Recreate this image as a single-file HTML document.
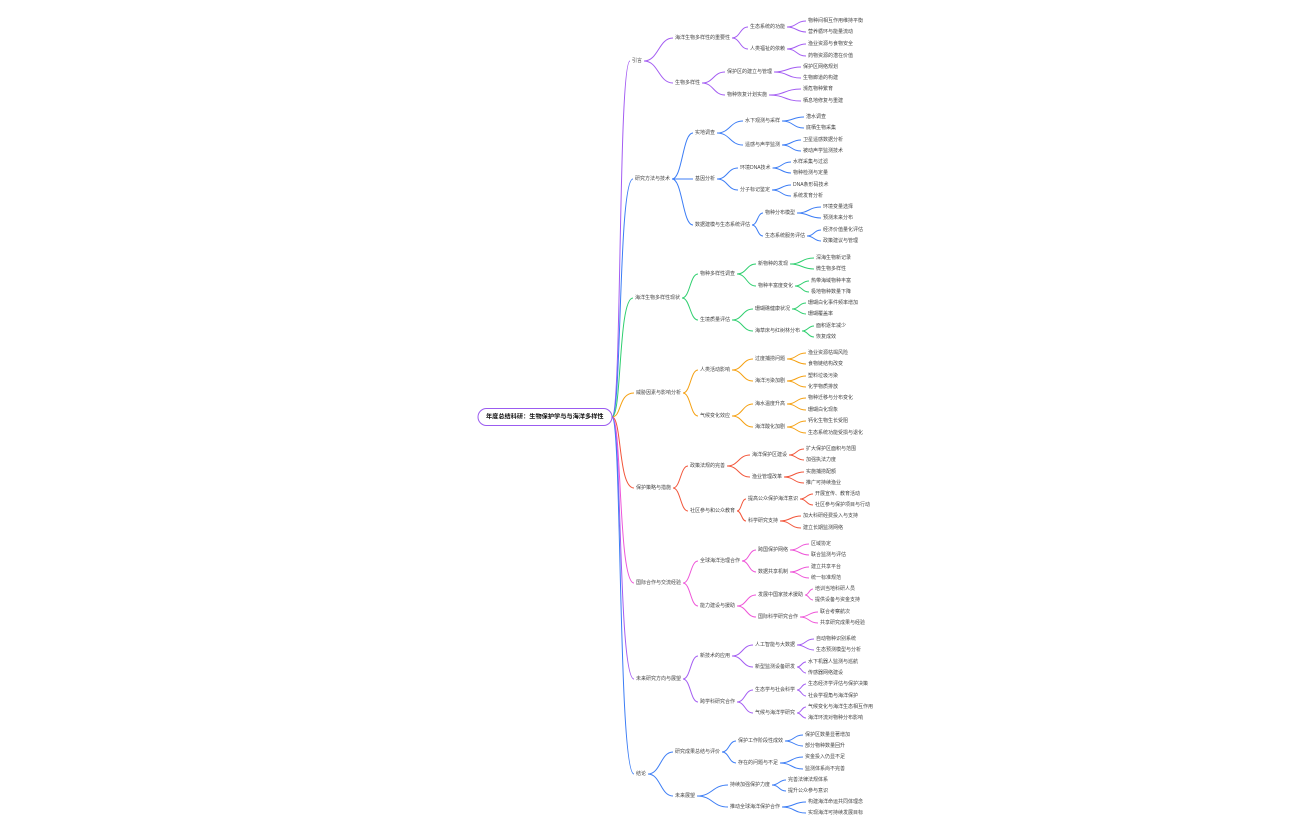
<!DOCTYPE html>
<html><head><meta charset="utf-8"><style>
html,body{margin:0;padding:0;background:#fff;width:1296px;height:840px;overflow:hidden}
svg{display:block}
text{font-family:"Liberation Sans","Noto Sans CJK SC",sans-serif;font-size:5px;fill:#444;dominant-baseline:central}
.r{font-size:6.2px;font-weight:bold;fill:#111}
path{fill:none;stroke-width:1}
</style></head><body>
<svg id="s" width="1296" height="840" viewBox="0 0 1296 840">
<g id="lines"></g>
<rect x="478" y="408.5" width="134" height="17" rx="8.5" fill="#fff" stroke="#9b5cf0" stroke-width="1"/>
<text id="R" class="r" x="486" y="417">年度总结科研：生物保护学与与海洋多样性</text>

<g class="b" c="#a35cf2">
<text id="a" p="R" x="632" y="61">引言</text>
<text id="a1" p="a" x="675" y="38">海洋生物多样性的重要性</text>
<text id="a11" p="a1" x="750" y="27">生态系统的功能</text>
<text p="a11" x="808" y="21">物种间相互作用维持平衡</text>
<text p="a11" x="808" y="32">营养循环与能量流动</text>
<text id="a12" p="a1" x="750" y="49">人类福祉的依赖</text>
<text p="a12" x="808" y="44">渔业资源与食物安全</text>
<text p="a12" x="808" y="56">药物资源的潜在价值</text>
<text id="a2" p="a" x="675" y="83">生物多样性</text>
<text id="a21" p="a2" x="727" y="72">保护区的建立与管理</text>
<text p="a21" x="803" y="67">保护区网络规划</text>
<text p="a21" x="803" y="78">生物廊道的构建</text>
<text id="a22" p="a2" x="727" y="95">物种恢复计划实施</text>
<text p="a22" x="803" y="89">濒危物种繁育</text>
<text p="a22" x="803" y="101">栖息地修复与重建</text>
</g>
<g class="b" c="#3c7df5">
<text id="b" p="R" x="635" y="179">研究方法与技术</text>
<text id="b1" p="b" x="695" y="133">实地调查</text>
<text id="b11" p="b1" x="745" y="121">水下观测与采样</text>
<text p="b11" x="806" y="117">潜水调查</text>
<text p="b11" x="806" y="128">底栖生物采集</text>
<text id="b12" p="b1" x="745" y="145">遥感与声学监测</text>
<text p="b12" x="803" y="140">卫星遥感数据分析</text>
<text p="b12" x="803" y="151">被动声学监测技术</text>
<text id="b2" p="b" x="695" y="179">基因分析</text>
<text id="b21" p="b2" x="740" y="168">环境DNA技术</text>
<text p="b21" x="793" y="162">水样采集与过滤</text>
<text p="b21" x="793" y="173">物种检测与定量</text>
<text id="b22" p="b2" x="740" y="190">分子标记鉴定</text>
<text p="b22" x="793" y="185">DNA条形码技术</text>
<text p="b22" x="793" y="196">系统发育分析</text>
<text id="b3" p="b" x="695" y="225">数据建模与生态系统评估</text>
<text id="b31" p="b3" x="765" y="213">物种分布模型</text>
<text p="b31" x="823" y="207">环境变量选择</text>
<text p="b31" x="823" y="218">预测未来分布</text>
<text id="b32" p="b3" x="765" y="236">生态系统服务评估</text>
<text p="b32" x="823" y="230">经济价值量化评估</text>
<text p="b32" x="823" y="241">政策建议与管理</text>
</g>
<g class="b" c="#2fcf6f">
<text id="c" p="R" x="635" y="298">海洋生物多样性现状</text>
<text id="c1" p="c" x="700" y="274">物种多样性调查</text>
<text id="c11" p="c1" x="758" y="264">新物种的发现</text>
<text p="c11" x="816" y="258">深海生物新记录</text>
<text p="c11" x="816" y="269">微生物多样性</text>
<text id="c12" p="c1" x="758" y="286">物种丰富度变化</text>
<text p="c12" x="811" y="281">热带海域物种丰富</text>
<text p="c12" x="811" y="292">极地物种数量下降</text>
<text id="c2" p="c" x="700" y="320">生境质量评估</text>
<text id="c21" p="c2" x="755" y="309">珊瑚礁健康状况</text>
<text p="c21" x="808" y="303">珊瑚白化事件频率增加</text>
<text p="c21" x="808" y="314">珊瑚覆盖率</text>
<text id="c22" p="c2" x="755" y="331">海草床与红树林分布</text>
<text p="c22" x="816" y="326">面积逐年减少</text>
<text p="c22" x="816" y="337">恢复成效</text>
</g>
<g class="b" c="#f5a011">
<text id="d" p="R" x="636" y="393">威胁因素与影响分析</text>
<text id="d1" p="d" x="700" y="370">人类活动影响</text>
<text id="d11" p="d1" x="755" y="359">过度捕捞问题</text>
<text p="d11" x="808" y="353">渔业资源枯竭风险</text>
<text p="d11" x="808" y="364">食物链结构改变</text>
<text id="d12" p="d1" x="755" y="381">海洋污染加剧</text>
<text p="d12" x="808" y="376">塑料垃圾污染</text>
<text p="d12" x="808" y="387">化学物质排放</text>
<text id="d2" p="d" x="700" y="416">气候变化效应</text>
<text id="d21" p="d2" x="755" y="404">海水温度升高</text>
<text p="d21" x="808" y="398">物种迁移与分布变化</text>
<text p="d21" x="808" y="410">珊瑚白化现象</text>
<text id="d22" p="d2" x="755" y="427">海洋酸化加剧</text>
<text p="d22" x="808" y="421">钙化生物生长受阻</text>
<text p="d22" x="808" y="433">生态系统功能受损与退化</text>
</g>
<g class="b" c="#f2553a">
<text id="e" p="R" x="636" y="488">保护策略与措施</text>
<text id="e1" p="e" x="690" y="466">政策法规的完善</text>
<text id="e11" p="e1" x="752" y="455">海洋保护区建设</text>
<text p="e11" x="806" y="449">扩大保护区面积与范围</text>
<text p="e11" x="806" y="460">加强执法力度</text>
<text id="e12" p="e1" x="752" y="477">渔业管理改革</text>
<text p="e12" x="806" y="472">实施捕捞配额</text>
<text p="e12" x="806" y="483">推广可持续渔业</text>
<text id="e2" p="e" x="690" y="511">社区参与和公众教育</text>
<text id="e21" p="e2" x="748" y="499">提高公众保护海洋意识</text>
<text p="e21" x="815" y="494">开展宣传、教育活动</text>
<text p="e21" x="815" y="505">社区参与保护项目与行动</text>
<text id="e22" p="e2" x="748" y="521">科学研究支持</text>
<text p="e22" x="803" y="516">加大科研经费投入与支持</text>
<text p="e22" x="803" y="528">建立长期监测网络</text>
</g>
<g class="b" c="#ee55d8">
<text id="f" p="R" x="636" y="583">国际合作与交流经验</text>
<text id="f1" p="f" x="700" y="561">全球海洋治理合作</text>
<text id="f11" p="f1" x="758" y="550">跨国保护网络</text>
<text p="f11" x="811" y="544">区域协定</text>
<text p="f11" x="811" y="555">联合监测与评估</text>
<text id="f12" p="f1" x="758" y="572">数据共享机制</text>
<text p="f12" x="811" y="567">建立共享平台</text>
<text p="f12" x="811" y="578">统一标准规范</text>
<text id="f2" p="f" x="700" y="606">能力建设与援助</text>
<text id="f21" p="f2" x="758" y="595">发展中国家技术援助</text>
<text p="f21" x="815" y="589">培训当地科研人员</text>
<text p="f21" x="815" y="600">提供设备与资金支持</text>
<text id="f22" p="f2" x="758" y="617">国际科学研究合作</text>
<text p="f22" x="820" y="612">联合考察航次</text>
<text p="f22" x="820" y="623">共享研究成果与经验</text>
</g>
<g class="b" c="#a35cf2">
<text id="g" p="R" x="636" y="679">未来研究方向与展望</text>
<text id="g1" p="g" x="700" y="656">新技术的应用</text>
<text id="g11" p="g1" x="755" y="645">人工智能与大数据</text>
<text p="g11" x="816" y="639">自动物种识别系统</text>
<text p="g11" x="816" y="650">生态预测模型与分析</text>
<text id="g12" p="g1" x="755" y="667">新型监测设备研发</text>
<text p="g12" x="808" y="662">水下机器人监测与巡航</text>
<text p="g12" x="808" y="673">传感器网络建设</text>
<text id="g2" p="g" x="700" y="702">跨学科研究合作</text>
<text id="g21" p="g2" x="755" y="690">生态学与社会科学</text>
<text p="g21" x="808" y="684">生态经济学评估与保护决策</text>
<text p="g21" x="808" y="696">社会学视角与海洋保护</text>
<text id="g22" p="g2" x="755" y="713">气候与海洋学研究</text>
<text p="g22" x="808" y="707">气候变化与海洋生态相互作用</text>
<text p="g22" x="808" y="718">海洋环流对物种分布影响</text>
</g>
<g class="b" c="#3c7df5">
<text id="h" p="R" x="636" y="774">结论</text>
<text id="h1" p="h" x="675" y="752">研究成果总结与评价</text>
<text id="h11" p="h1" x="738" y="741">保护工作阶段性成效</text>
<text p="h11" x="805" y="735">保护区数量显著增加</text>
<text p="h11" x="805" y="746">部分物种数量回升</text>
<text id="h12" p="h1" x="738" y="763">存在的问题与不足</text>
<text p="h12" x="805" y="757">资金投入仍显不足</text>
<text p="h12" x="805" y="769">监测体系尚不完善</text>
<text id="h2" p="h" x="675" y="796">未来展望</text>
<text id="h21" p="h2" x="730" y="785">持续加强保护力度</text>
<text p="h21" x="788" y="780">完善法律法规体系</text>
<text p="h21" x="788" y="791">提升公众参与意识</text>
<text id="h22" p="h2" x="730" y="807">推动全球海洋保护合作</text>
<text p="h22" x="808" y="802">构建海洋命运共同体理念</text>
<text p="h22" x="808" y="813">实现海洋可持续发展目标</text>
</g>
</svg>
<script>
(function(){
var L=document.getElementById('lines'),NS='http://www.w3.org/2000/svg';
document.querySelectorAll('g.b').forEach(function(g){
 var col=g.getAttribute('c');
 g.querySelectorAll('text[p]').forEach(function(t){
  var p=document.getElementById(t.getAttribute('p'));
  var pb=p.getBBox(),x1,y1;
  if(p.id==='R'){x1=612;y1=417;}else{x1=pb.x+pb.width+2;y1=parseFloat(p.getAttribute('y'));}
  var x2=parseFloat(t.getAttribute('x'))-2,y2=parseFloat(t.getAttribute('y'));
  var d;
  if(p.id==='R'){d='M'+x1+' '+y1+' C'+(x1+10)+' '+y1+' '+(x1+6)+' '+y2+' '+x2+' '+y2;}
  else{var m=(x1+x2)/2;d='M'+x1+' '+y1+' C'+m+' '+y1+' '+m+' '+y2+' '+x2+' '+y2;}
  var pa=document.createElementNS(NS,'path');pa.setAttribute('d',d);pa.setAttribute('stroke',col);
  L.appendChild(pa);
 });
});
})();
</script>
</body></html>
